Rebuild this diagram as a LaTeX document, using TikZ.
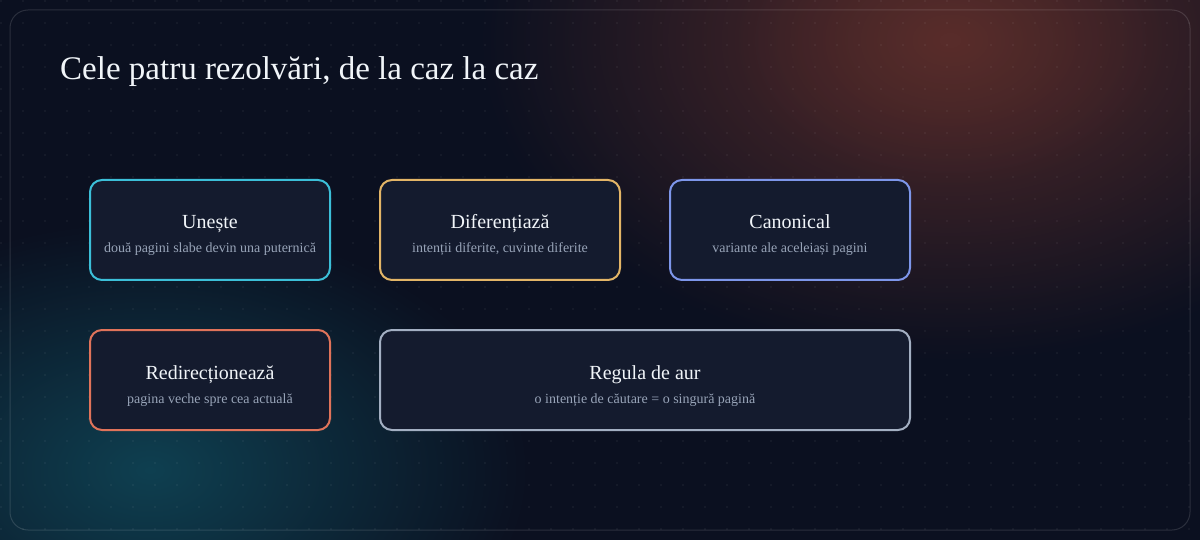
\documentclass[tikz,border=0pt]{standalone}
\usepackage{fontspec}
\setmainfont{Liberation Serif}
\usetikzlibrary{fadings}
\tikzfading[name=glowfade, inner color=transparent!0, outer color=transparent!100]
\definecolor{bg}{HTML}{0B1020}
\definecolor{boxfill}{HTML}{141B2E}
\definecolor{glowred}{HTML}{62302C}
\definecolor{glowteal}{HTML}{0F4556}
\definecolor{cyanc}{HTML}{3CBFD8}
\definecolor{goldc}{HTML}{E3B567}
\definecolor{bluec}{HTML}{7D96EA}
\definecolor{coralc}{HTML}{E0735A}
\definecolor{grayc}{HTML}{A3AFC2}
\definecolor{titlec}{HTML}{F1F5F9}
\definecolor{subc}{HTML}{98A4B8}
\tikzset{
  card/.style={draw=#1, fill=boxfill, line width=2pt, rounded corners=12pt,
    minimum height=100pt, inner sep=0pt},
  cardtitle/.style={text=titlec, font=\fontsize{20}{24}\selectfont, inner sep=0pt},
  cardsub/.style={text=subc, font=\fontsize{14}{17}\selectfont, inner sep=0pt},
}
\begin{document}
\begin{tikzpicture}[x=1pt,y=-1pt]
\useasboundingbox (0,0) rectangle (1200,540);
\fill[bg] (0,0) rectangle (1200,540);
% glows
\begin{scope}
\clip (0,0) rectangle (1200,540);
\fill[glowred, path fading=glowfade, fill opacity=0.85] (950,40) ellipse (470 and 320);
\fill[glowred, path fading=glowfade, fill opacity=0.35] (950,40) ellipse (220 and 150);
\fill[glowteal, path fading=glowfade, fill opacity=0.9] (150,470) ellipse (380 and 250);
\end{scope}
% dot grid
\foreach \i in {0,...,54}{
  \foreach \j in {0,...,24}{
    \fill[white, fill opacity=0.09] (1+22*\i,1+22*\j) circle (0.9);
  }
}
% frame
\draw[white, draw opacity=0.13, line width=1pt, rounded corners=18pt] (10,10) rectangle (1190,530);
% title
\node[anchor=base west, text=titlec, font=\fontsize{33}{38}\selectfont, inner sep=0pt] (title) at (60,80) {Cele patru rezolvări, de la caz la caz};
% cards
\node[card=cyanc, minimum width=240pt] (c1) at (210,230) {};
\node[card=goldc, minimum width=240pt] (c2) at (500,230) {};
\node[card=bluec, minimum width=240pt] (c3) at (790,230) {};
\node[card=coralc, minimum width=240pt] (c4) at (210,380) {};
\node[card=grayc, minimum width=530pt] (c5) at (645,380) {};
\foreach \n/\t/\s in {c1/Unește/două pagini slabe devin una puternică,
                      c2/Diferențiază/{intenții diferite, cuvinte diferite},
                      c3/Canonical/variante ale aceleiași pagini,
                      c4/Redirecționează/pagina veche spre cea actuală,
                      c5/Regula de aur/o intenție de căutare = o singură pagină}{
  \node[cardtitle, anchor=base] (\n t) at ([yshift=1pt]\n.center) {\t};
  \node[cardsub, anchor=base] (\n s) at ([yshift=-23pt]\n.center) {\s};
}
\end{tikzpicture}
\end{document}
